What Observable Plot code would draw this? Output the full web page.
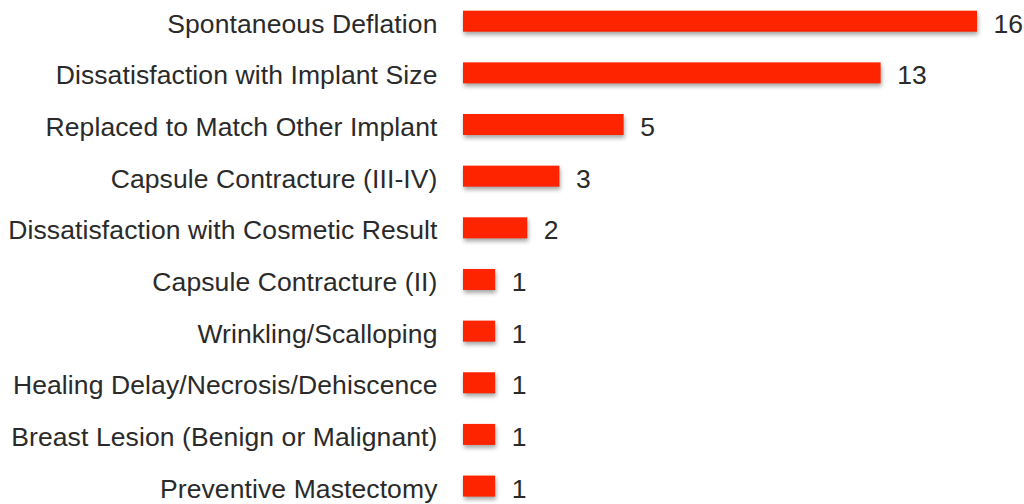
<!DOCTYPE html>
<html>
<head>
<meta charset="utf-8">
<script src="https://cdn.jsdelivr.net/npm/d3@7"></script>
<script src="https://cdn.jsdelivr.net/npm/@observablehq/plot@0.6"></script>
<style>
  html, body { margin: 0; padding: 0; background: #fff; }
  #chart svg { display: block; }
</style>
</head>
<body>
<div id="chart"></div>
<script>
const reasons = [
  "Spontaneous Deflation",
  "Dissatisfaction with Implant Size",
  "Replaced to Match Other Implant",
  "Capsule Contracture (III-IV)",
  "Dissatisfaction with Cosmetic Result",
  "Capsule Contracture (II)",
  "Wrinkling/Scalloping",
  "Healing Delay/Necrosis/Dehiscence",
  "Breast Lesion (Benign or Malignant)",
  "Preventive Mastectomy"
];
const counts = [16, 13, 5, 3, 2, 1, 1, 1, 1, 1];

const data = reasons.map((r, i) => ({reason: r, count: counts[i]}));

const chart = Plot.plot({
  width: 1024,
  height: 504,
  marginLeft: 463,
  marginRight: 47,
  marginTop: 0,
  marginBottom: 0,
  style: {fontFamily: "'Liberation Sans', Arial, Helvetica, sans-serif", color: "#2a2a2a", background: "#fff", letterSpacing: "0.1px"},
  x: {domain: [0, 16], axis: null},
  y: {domain: reasons, range: [10.7, 496.6], paddingInner: 0.593, paddingOuter: 0, round: false, axis: null, label: null},
  marks: [
    Plot.barX(data, {x: "count", y: "reason", fill: "#ff2400"}),
    Plot.axisY({tickSize: 0, tickPadding: 26, fontSize: 26.5, dy: 2.5, fill: "#2a2a2a", textAnchor: "end", label: null}),
    Plot.text(data, {x: "count", y: "reason", text: d => String(d.count), textAnchor: "start", dx: 16, dy: 2.5, fontSize: 26.5, fill: "#2a2a2a"})
  ]
});
chart.querySelectorAll('g[aria-label="bar"]').forEach(g => {
  g.style.filter = "drop-shadow(1px 3px 2px rgba(0,0,0,0.35))";
});
document.getElementById("chart").appendChild(chart);
</script>
</body>
</html>
